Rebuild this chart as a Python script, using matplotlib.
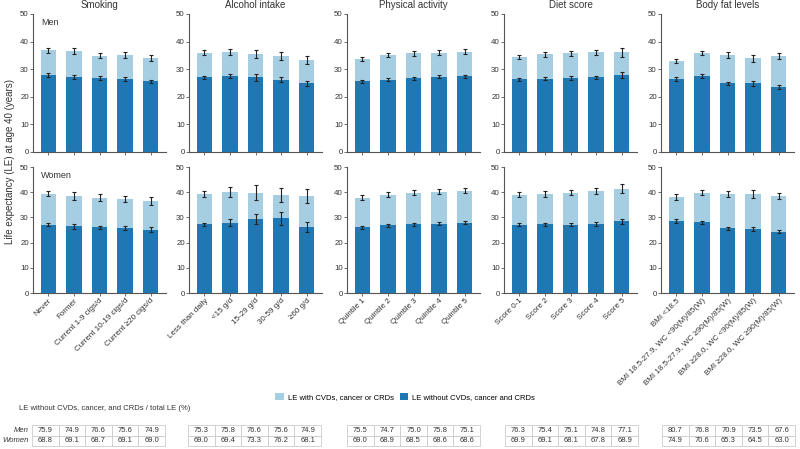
import matplotlib
matplotlib.use("Agg")
import matplotlib.pyplot as plt
from matplotlib.patches import Patch
import numpy as np

plt.rcParams['font.family'] = ['Liberation Sans', 'DejaVu Sans']

panels = ["Smoking", "Alcohol intake", "Physical activity", "Diet score", "Body fat levels"]
categories = [
    ["Never", "Former", "Current 1-9 cigs/d", "Current 10-19 cigs/d", "Current \u226520 cigs/d"],
    ["Less than daily", "<15 g/d", "15-29 g/d", "30-59 g/d", "\u226560 g/d"],
    ["Quintile 1", "Quintile 2", "Quintile 3", "Quintile 4", "Quintile 5"],
    ["Score 0-1", "Score 2", "Score 3", "Score 4", "Score 5"],
    ["BMI <18.5", "BMI 18.5-27.9, WC <90(M)/85(W)", "BMI 18.5-27.9, WC \u226590(M)/85(W)",
     "BMI \u226528.0, WC <90(M)/85(W)", "BMI \u226528.0, WC \u226590(M)/85(W)"],
]

# Men: total LE and LE without disease
men_total = [
    [36.9, 36.6, 34.9, 35.1, 34.1],
    [36.0, 36.3, 35.5, 34.7, 33.3],
    [33.8, 35.1, 35.7, 36.0, 36.4],
    [34.5, 35.4, 35.7, 36.1, 36.2],
    [32.9, 35.8, 35.1, 33.9, 34.9],
]
men_free = [
    [27.9, 27.3, 26.8, 26.5, 25.6],
    [27.0, 27.5, 27.1, 26.2, 24.9],
    [25.6, 26.2, 26.7, 27.3, 27.4],
    [26.3, 26.6, 26.8, 27.0, 27.9],
    [26.6, 27.5, 24.9, 24.9, 23.6],
]
men_total_err = [
    [0.9, 1.0, 1.0, 1.0, 1.0],
    [1.0, 1.0, 1.4, 1.4, 1.4],
    [0.8, 0.8, 0.8, 0.8, 0.8],
    [0.8, 0.9, 0.9, 1.0, 1.6],
    [0.8, 0.8, 1.0, 1.4, 1.1],
]
men_free_err = [
    [0.7, 0.7, 0.7, 0.7, 0.6],
    [0.7, 0.8, 1.2, 1.0, 1.0],
    [0.6, 0.6, 0.6, 0.6, 0.6],
    [0.6, 0.6, 0.6, 0.7, 1.0],
    [0.7, 0.6, 0.6, 1.0, 0.6],
]

women_total = [
    [39.4, 38.4, 37.8, 37.3, 36.6],
    [39.4, 40.1, 39.8, 38.9, 38.5],
    [37.8, 38.9, 39.8, 40.1, 40.6],
    [38.9, 39.3, 39.8, 40.3, 41.3],
    [38.1, 39.7, 39.3, 39.3, 38.5],
]
women_free = [
    [27.1, 26.4, 26.0, 25.8, 25.1],
    [27.2, 27.8, 29.2, 29.6, 26.2],
    [26.1, 26.8, 27.3, 27.5, 27.9],
    [27.1, 27.2, 27.1, 27.4, 28.4],
    [28.5, 28.0, 25.7, 25.3, 24.3],
]
women_total_err = [
    [1.0, 1.6, 1.3, 1.3, 1.6],
    [1.2, 2.0, 3.0, 2.8, 2.8],
    [1.0, 1.0, 1.0, 1.0, 0.9],
    [1.0, 1.1, 1.1, 1.2, 1.8],
    [1.0, 1.0, 1.1, 1.6, 1.3],
]
women_free_err = [
    [0.6, 0.9, 0.7, 0.8, 0.9],
    [0.6, 1.4, 2.0, 2.5, 2.0],
    [0.6, 0.6, 0.6, 0.6, 0.6],
    [0.6, 0.6, 0.6, 0.7, 1.0],
    [0.7, 0.6, 0.6, 0.8, 0.6],
]

men_pct = [
    ["75.9", "74.9", "76.6", "75.6", "74.9"],
    ["75.3", "75.8", "76.6", "75.6", "74.9"],
    ["75.5", "74.7", "75.0", "75.8", "75.1"],
    ["76.3", "75.4", "75.1", "74.8", "77.1"],
    ["80.7", "76.8", "70.9", "73.5", "67.6"],
]
women_pct = [
    ["68.8", "69.1", "68.7", "69.1", "69.0"],
    ["69.0", "69.4", "73.3", "76.2", "68.1"],
    ["69.0", "68.9", "68.5", "68.6", "68.6"],
    ["69.9", "69.1", "68.1", "67.8", "68.9"],
    ["74.9", "70.6", "65.3", "64.5", "63.0"],
]

LIGHT = "#a6cee3"
DARK = "#1f78b4"
TXT = "#333333"
SPINE = "#555555"

W, H = 800, 449
fig = plt.figure(figsize=(8, 4.49), dpi=100)

lefts = [33, 189, 347, 504, 661]
pw = 133

def fx(px):
    return px / W

def fy(py):
    return 1 - py / H

rows = [
    (14, 152, men_total, men_free, men_total_err, men_free_err, "Men"),
    (167, 293, women_total, women_free, women_total_err, women_free_err, "Women"),
]

for r, (ytop, ybot, tot, free, terr, ferr, sex) in enumerate(rows):
    for p in range(5):
        ax = fig.add_axes([fx(lefts[p]), fy(ybot), fx(pw), (ybot - ytop) / H])
        x = np.arange(5)
        t = np.array(tot[p]); f = np.array(free[p])
        ax.bar(x, f, width=0.6, color=DARK, zorder=2)
        ax.bar(x, t - f, bottom=f, width=0.6, color=LIGHT, zorder=2)
        ax.errorbar(x, t, yerr=terr[p], fmt='none', ecolor='#222222', elinewidth=0.8,
                    capsize=1.3, capthick=0.8, zorder=3)
        ax.errorbar(x, f, yerr=ferr[p], fmt='none', ecolor='#222222', elinewidth=0.8,
                    capsize=1.3, capthick=0.8, zorder=3)
        ax.set_xlim(-0.6, 4.6)
        ax.set_ylim(0, 50)
        ax.set_yticks([0, 10, 20, 30, 40, 50])
        for s in ['top', 'right']:
            ax.spines[s].set_visible(False)
        for s in ['left', 'bottom']:
            ax.spines[s].set_color(SPINE)
            ax.spines[s].set_linewidth(0.8)
        ax.tick_params(axis='both', colors=SPINE, labelcolor=TXT, labelsize=5.7,
                       length=2, width=0.6, pad=1)
        ax.set_xticks(x)
        if r == 1:
            ax.set_xticklabels(categories[p], rotation=45, ha='right',
                               rotation_mode='anchor', fontsize=5.8, color=TXT)
        else:
            ax.set_xticklabels([])
            ax.set_title(panels[p], fontsize=7, color=TXT, pad=4)
        if p == 0:
            ax.text(0.06, 0.97, sex, transform=ax.transAxes, fontsize=6.5,
                    color=TXT, va='top', ha='left')

fig.text(fx(10), fy(162), "Life expectancy (LE) at age 40 (years)", rotation=90,
         ha='center', va='center', fontsize=7, color=TXT)

handles = [Patch(facecolor=LIGHT, label="LE with CVDs, cancer or CRDs"),
           Patch(facecolor=DARK, label="LE without CVDs, cancer and CRDs")]
fig.legend(handles=handles, loc='center', bbox_to_anchor=(fx(405), fy(397)), ncol=2,
           frameon=False, fontsize=5.5, handlelength=1.1, handleheight=1.1,
           columnspacing=0.8, handletextpad=0.5)

fig.text(fx(19), fy(408), "LE without CVDs, cancer, and CRDs / total LE (%)",
         fontsize=5.5, color=TXT, va='center', ha='left')

tab_lefts = [32, 188, 347, 505, 662]
tab_w = 133
for p in range(5):
    tax = fig.add_axes([fx(tab_lefts[p]), fy(446), fx(tab_w), 21 / H])
    tax.axis('off')
    tb = tax.table(cellText=[men_pct[p], women_pct[p]], bbox=[0, 0, 1, 1],
                   cellLoc='center')
    tb.auto_set_font_size(False)
    tb.set_fontsize(5.5)
    for (i, j), cell in tb.get_celld().items():
        cell.set_edgecolor('#cccccc')
        cell.set_linewidth(0.6)
        cell.get_text().set_color(TXT)

fig.text(fx(29), fy(430.5), "Men", fontsize=5.5, style='italic', color=TXT,
         ha='right', va='center')
fig.text(fx(29), fy(441), "Women", fontsize=5.5, style='italic', color=TXT,
         ha='right', va='center')

fig.savefig("out.png", dpi=100)
